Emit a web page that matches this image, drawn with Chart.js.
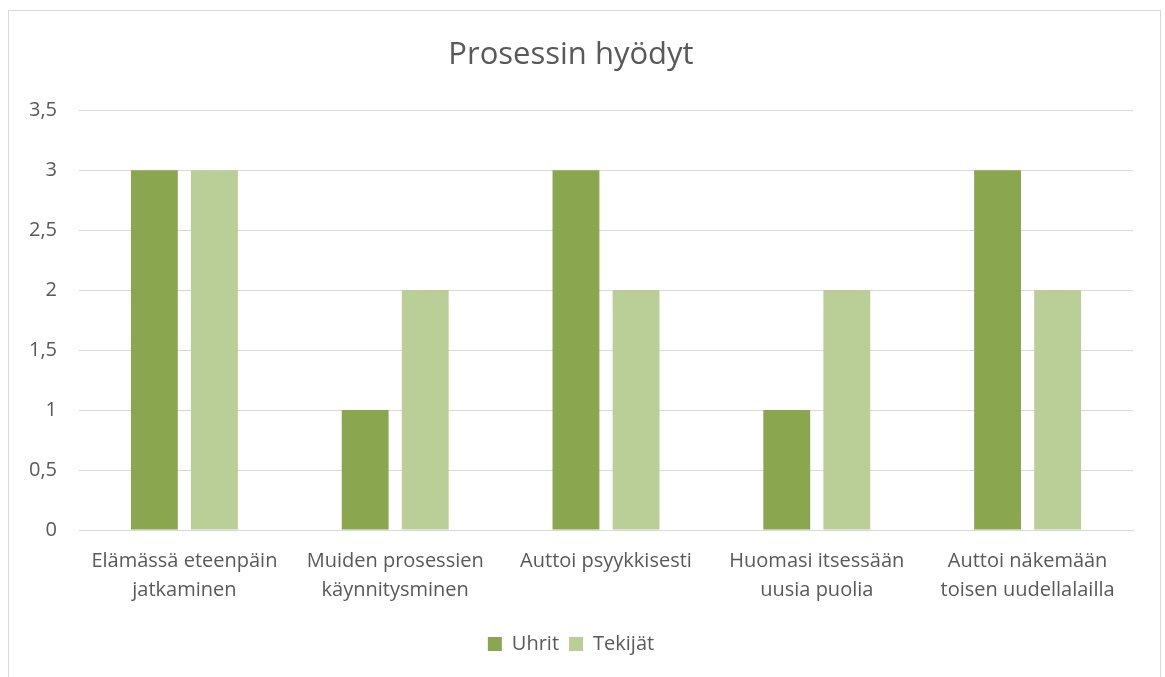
<!DOCTYPE html>
<html>
<head>
<meta charset="utf-8">
<script src="https://cdn.jsdelivr.net/npm/chart.js@4"></script>
<style>
  body { margin: 0; background: #fff; }
  #frame {
    position: absolute; left: 8px; top: 10px;
    width: 1151px; height: 670px;
    border: 1px solid #d9d9d9; box-sizing: content-box;
  }
</style>
</head>
<body>
<div id="frame"><canvas id="benefitsChart" width="1151" height="670"></canvas></div>
<script>
const categories = [
  ["Elämässä eteenpäin", "jatkaminen"],
  ["Muiden prosessien", "käynnitysminen"],
  ["Auttoi psyykkisesti"],
  ["Huomasi itsessään", "uusia puolia"],
  ["Auttoi näkemään", "toisen uudellalailla"]
]
const uhrit = [3, 1, 3, 1, 3]
const tekijat = [3, 2, 2, 2, 2]
const yTicks = [0, 0.5, 1, 1.5, 2, 2.5, 3, 3.5]

const textColor = "#595959"
const font = "'Open Sans', sans-serif"

new Chart(document.getElementById('benefitsChart'), {
  type: 'bar',
  data: {
    labels: categories,
    datasets: [
      { label: 'Uhrit', data: uhrit, backgroundColor: '#8aa64f' },
      { label: 'Tekijät', data: tekijat, backgroundColor: '#b9cf97' }
    ]
  },
  options: {
    responsive: false,
    animation: false,
    categoryPercentage: 0.57,
    barPercentage: 0.78,
    layout: { padding: { left: 0, right: 27, bottom: 17 } },
    plugins: {
      title: {
        display: true,
        text: 'Prosessin hyödyt',
        color: textColor,
        font: { family: font, size: 31, weight: 'normal' },
        padding: { top: 26, bottom: 36 }
      },
      legend: {
        position: 'bottom',
        labels: {
          color: textColor,
          font: { family: font, size: 20 },
          boxWidth: 14,
          boxHeight: 14,
          padding: 10
        }
      },
      tooltip: { enabled: false }
    },
    scales: {
      x: {
        grid: { display: false },
        border: { color: '#d9d9d9' },
        ticks: {
          color: textColor,
          font: { family: font, size: 20, lineHeight: 1.45 },
          padding: 9,
          maxRotation: 0
        },
        afterFit: (scale) => { scale.height = 94 }
      },
      y: {
        min: 0,
        max: 3.5,
        afterBuildTicks: (scale) => { scale.ticks = yTicks.map(v => ({ value: v })) },
        grid: { color: '#d9d9d9', drawTicks: false },
        border: { display: false },
        ticks: {
          color: textColor,
          font: { family: font, size: 20 },
          padding: 22,
          callback: (v) => String(v).replace('.', ',')
        },
        afterFit: (scale) => { scale.width = 70 }
      }
    }
  }
})
</script>
</body>
</html>
